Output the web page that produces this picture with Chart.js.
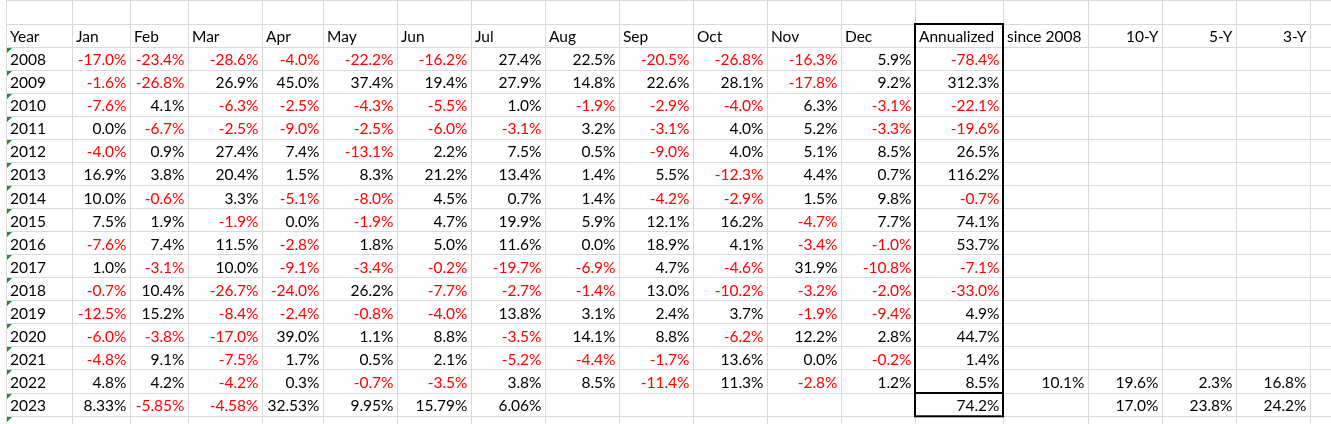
<!DOCTYPE html>
<html>
<head>
<meta charset="utf-8">
<script src="https://cdn.jsdelivr.net/npm/chart.js@4.4.1/dist/chart.umd.min.js"></script>
<style>
html,body{margin:0;padding:0;background:#fff;overflow:hidden}
canvas{display:block}
</style>
</head>
<body>
<canvas id="c" width="1331" height="424"></canvas>
<script>
// ---------------- DATA ----------------
const headers = ["Year","Jan","Feb","Mar","Apr","May","Jun","Jul","Aug","Sep","Oct","Nov","Dec","Annualized","since 2008","10-Y","5-Y","3-Y"];
const years = ["2008","2009","2010","2011","2012","2013","2014","2015","2016","2017","2018","2019","2020","2021","2022","2023"];

const ret2008 = [-17.0,-23.4,-28.6,-4.0,-22.2,-16.2,27.4,22.5,-20.5,-26.8,-16.3,5.9];
const ret2009 = [-1.6,-26.8,26.9,45.0,37.4,19.4,27.9,14.8,22.6,28.1,-17.8,9.2];
const ret2010 = [-7.6,4.1,-6.3,-2.5,-4.3,-5.5,1.0,-1.9,-2.9,-4.0,6.3,-3.1];
const ret2011 = [0.0,-6.7,-2.5,-9.0,-2.5,-6.0,-3.1,3.2,-3.1,4.0,5.2,-3.3];
const ret2012 = [-4.0,0.9,27.4,7.4,-13.1,2.2,7.5,0.5,-9.0,4.0,5.1,8.5];
const ret2013 = [16.9,3.8,20.4,1.5,8.3,21.2,13.4,1.4,5.5,-12.3,4.4,0.7];
const ret2014 = [10.0,-0.6,3.3,-5.1,-8.0,4.5,0.7,1.4,-4.2,-2.9,1.5,9.8];
const ret2015 = [7.5,1.9,-1.9,0.0,-1.9,4.7,19.9,5.9,12.1,16.2,-4.7,7.7];
const ret2016 = [-7.6,7.4,11.5,-2.8,1.8,5.0,11.6,0.0,18.9,4.1,-3.4,-1.0];
const ret2017 = [1.0,-3.1,10.0,-9.1,-3.4,-0.2,-19.7,-6.9,4.7,-4.6,31.9,-10.8];
const ret2018 = [-0.7,10.4,-26.7,-24.0,26.2,-7.7,-2.7,-1.4,13.0,-10.2,-3.2,-2.0];
const ret2019 = [-12.5,15.2,-8.4,-2.4,-0.8,-4.0,13.8,3.1,2.4,3.7,-1.9,-9.4];
const ret2020 = [-6.0,-3.8,-17.0,39.0,1.1,8.8,-3.5,14.1,8.8,-6.2,12.2,2.8];
const ret2021 = [-4.8,9.1,-7.5,1.7,0.5,2.1,-5.2,-4.4,-1.7,13.6,0.0,-0.2];
const ret2022 = [4.8,4.2,-4.2,0.3,-0.7,-3.5,3.8,8.5,-11.4,11.3,-2.8,1.2];
const ret2023 = [8.33,-5.85,-4.58,32.53,9.95,15.79,6.06,null,null,null,null,null];
const monthlyByYear = [ret2008,ret2009,ret2010,ret2011,ret2012,ret2013,ret2014,ret2015,ret2016,ret2017,ret2018,ret2019,ret2020,ret2021,ret2022,ret2023];
const monthDecimals = [1,1,1,1,1,1,1,1,1,1,1,1,1,1,1,2];

const annualized = [-78.4,312.3,-22.1,-19.6,26.5,116.2,-0.7,74.1,53.7,-7.1,-33.0,4.9,44.7,1.4,8.5,74.2];
const since2008 = [null,null,null,null,null,null,null,null,null,null,null,null,null,null,10.1,null];
const tenY      = [null,null,null,null,null,null,null,null,null,null,null,null,null,null,19.6,17.0];
const fiveY     = [null,null,null,null,null,null,null,null,null,null,null,null,null,null,2.3,23.8];
const threeY    = [null,null,null,null,null,null,null,null,null,null,null,null,null,null,16.8,24.2];

// ---------------- LAYOUT (pixel units of the x scale, row units of the y scale) ----------------
const COL_EDGES = [6,72,130,188,262,323,397,471,545,619,693,767,841,915,1003,1088,1162,1236,1310];
const RIGHT_EDGE = 1331;
const ROW_H = 23.0625;
const Y_MIN = 1 - 24 / ROW_H;
const Y_MAX = Y_MIN + 424 / ROW_H;
const FONT = '15.5px Lato, "Open Sans", sans-serif';
const RED = '#FF0000', BLACK = '#000000', GRID = '#D9D9D9', GREEN = '#1E8B3A';
const PAD_L = 4, PAD_R = 3.5;

function fmt(v, d){ return v.toFixed(d) + '%'; }

// Build the cells (anchor x on scale, y = bottom edge of the row)
const cells = [];
function leftCell(col, row, text, color){ cells.push({x: COL_EDGES[col] + PAD_L, y: row + 1, text, align:'left', color}); }
function rightCell(col, row, text, color){ cells.push({x: COL_EDGES[col + 1] - PAD_R, y: row + 1, text, align:'right', color}); }

headers.forEach((h, i) => {
  if (i >= 15) rightCell(i, 1, h, BLACK);
  else leftCell(i, 1, h + '', BLACK);
});
years.forEach((yr, k) => {
  const row = 2 + k;
  leftCell(0, row, yr, BLACK);
  monthlyByYear[k].forEach((v, m) => {
    if (v === null) return;
    rightCell(1 + m, row, fmt(v, monthDecimals[k]), v < 0 ? RED : BLACK);
  });
  const extras = [annualized, since2008, tenY, fiveY, threeY];
  extras.forEach((arr, j) => {
    const v = arr[k];
    if (v === null) return;
    rightCell(13 + j, row, fmt(v, 1), v < 0 ? RED : BLACK);
  });
});

const tablePlugin = {
  id: 'sheet',
  beforeDatasetsDraw(chart){
    const ctx = chart.ctx, xs = chart.scales.x, ys = chart.scales.y;
    ctx.save();
    ctx.fillStyle = '#fff';
    ctx.fillRect(0, 0, chart.width, chart.height);
    ctx.strokeStyle = GRID; ctx.lineWidth = 1;
    const left = Math.floor(xs.getPixelForValue(COL_EDGES[0])) + 0.5;
    const right = xs.getPixelForValue(RIGHT_EDGE);
    const top = ys.getPixelForValue(0), bottom = ys.getPixelForValue(Y_MAX);
    ctx.beginPath();
    for (let r = 0; r <= 18; r++) {
      const py = Math.floor(ys.getPixelForValue(r) + 0.02) + 0.5;
      ctx.moveTo(left - 0.5, py); ctx.lineTo(right, py);
    }
    COL_EDGES.forEach(e => {
      const px = Math.floor(xs.getPixelForValue(e)) + 0.5;
      ctx.moveTo(px, Math.floor(top)); ctx.lineTo(px, bottom);
    });
    ctx.stroke();
    ctx.restore();
  },
  afterDatasetsDraw(chart){
    const ctx = chart.ctx, xs = chart.scales.x, ys = chart.scales.y;
    const meta = chart.getDatasetMeta(0);
    const data = chart.data.datasets[0].data;
    ctx.save();
    ctx.font = FONT;
    ctx.textBaseline = 'alphabetic';
    meta.data.forEach((el, i) => {
      const c = data[i];
      ctx.fillStyle = c.color;
      ctx.textAlign = c.align;
      ctx.fillText(c.text, el.x, Math.round(el.y) - 5);
    });
    // green error indicators on the text-formatted year cells
    ctx.fillStyle = GREEN;
    for (let r = 2; r <= 18; r++) {
      const px = Math.floor(xs.getPixelForValue(COL_EDGES[0])) + 1;
      const py = Math.floor(ys.getPixelForValue(r) + 0.02) + 1;
      ctx.beginPath();
      ctx.moveTo(px, py); ctx.lineTo(px + 5, py); ctx.lineTo(px, py + 5); ctx.closePath();
      ctx.fill();
    }
    // thick borders around the Annualized column
    ctx.strokeStyle = '#000'; ctx.lineWidth = 2;
    const bx0 = xs.getPixelForValue(COL_EDGES[13]), bx1 = xs.getPixelForValue(COL_EDGES[14]);
    const by1 = Math.round(ys.getPixelForValue(1)), by17 = Math.round(ys.getPixelForValue(17)), by18 = Math.round(ys.getPixelForValue(18)) + 0.3;
    ctx.strokeRect(bx0, by1, bx1 - bx0, by17 - by1);
    ctx.strokeRect(bx0, by17, bx1 - bx0, by18 - by17);
    ctx.restore();
  }
};

new Chart(document.getElementById('c').getContext('2d'), {
  type: 'scatter',
  data: { datasets: [{ data: cells, pointRadius: 0, pointHoverRadius: 0, showLine: false }] },
  options: {
    responsive: false,
    animation: false,
    events: [],
    layout: { padding: 0 },
    plugins: { legend: { display: false }, tooltip: { enabled: false } },
    scales: {
      x: { type: 'linear', display: false, min: 0, max: RIGHT_EDGE },
      y: { type: 'linear', display: false, reverse: true, min: Y_MIN, max: Y_MAX }
    }
  },
  plugins: [tablePlugin]
});
</script>
</body>
</html>
